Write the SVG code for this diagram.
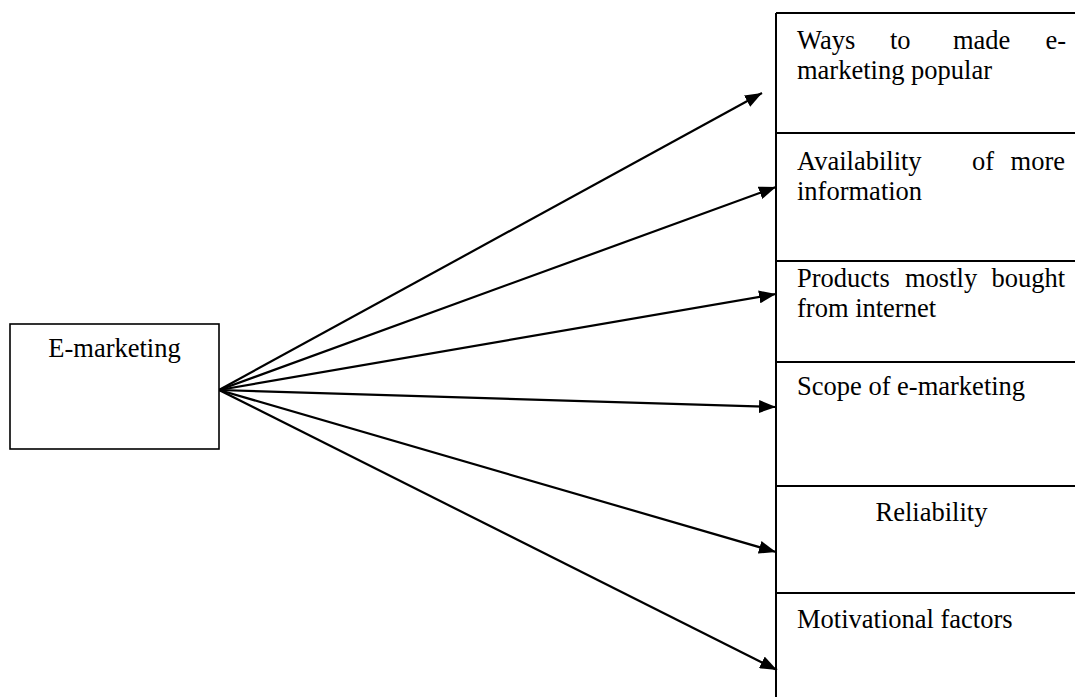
<svg xmlns="http://www.w3.org/2000/svg" width="1075" height="697" viewBox="0 0 1075 697">
<style>
.box{fill:#fff;stroke:#000;stroke-width:1.6}
.div{stroke:#000;stroke-width:2;fill:none}
.t{font-family:"Liberation Serif","Times New Roman",serif;font-size:26.5px;fill:#000}
.c{stroke:#000;stroke-width:2.2;fill:none}
</style>
<defs>
<marker id="ah" markerUnits="userSpaceOnUse" markerWidth="17" markerHeight="13" viewBox="0 0 17 13" refX="17" refY="6.5" orient="auto">
<path d="M0,0 L17,6.5 L0,13 z" fill="#000"/>
</marker>
</defs>
<rect width="1075" height="697" fill="#fff"/>
<g id="connectors">
<line class="c" x1="219" y1="390" x2="762" y2="93" marker-end="url(#ah)"/>
<line class="c" x1="219" y1="390" x2="776" y2="187" marker-end="url(#ah)"/>
<line class="c" x1="219" y1="390" x2="776" y2="294" marker-end="url(#ah)"/>
<line class="c" x1="219" y1="390" x2="776" y2="407" marker-end="url(#ah)"/>
<line class="c" x1="219" y1="390" x2="776" y2="552" marker-end="url(#ah)"/>
<line class="c" x1="219" y1="390" x2="777" y2="670" marker-end="url(#ah)"/>
</g>
<g id="e-marketing">
<rect class="box" x="10" y="324" width="209" height="125"/>
<text class="t" x="114.5" y="357" text-anchor="middle">E-marketing</text>
</g>
<g id="right-column">
<path class="div" d="M776,13 V697 M776,13 H1075"/>
</g>
<g id="ways">
<text class="t" y="49"><tspan x="797">Ways</tspan><tspan x="890">to</tspan><tspan x="953">made</tspan><tspan x="1066" text-anchor="end">e-</tspan></text>
<text class="t" x="797" y="79">marketing popular</text>
</g>
<g id="availability">
<path class="div" d="M776,133 H1075"/>
<text class="t" y="170"><tspan x="797">Availability</tspan><tspan x="972">of</tspan><tspan x="1065" text-anchor="end">more</tspan></text>
<text class="t" x="797" y="200">information</text>
</g>
<g id="products">
<path class="div" d="M776,261 H1075"/>
<text class="t" y="287"><tspan x="797">Products</tspan><tspan x="905">mostly</tspan><tspan x="1065" text-anchor="end">bought</tspan></text>
<text class="t" x="797" y="317">from internet</text>
</g>
<g id="scope">
<path class="div" d="M776,362 H1075"/>
<text class="t" x="797" y="395">Scope of e-marketing</text>
</g>
<g id="reliability">
<path class="div" d="M776,486 H1075"/>
<text class="t" x="931.5" y="521" text-anchor="middle">Reliability</text>
</g>
<g id="motivational">
<path class="div" d="M776,593 H1075"/>
<text class="t" x="797" y="628">Motivational factors</text>
</g>
</svg>
